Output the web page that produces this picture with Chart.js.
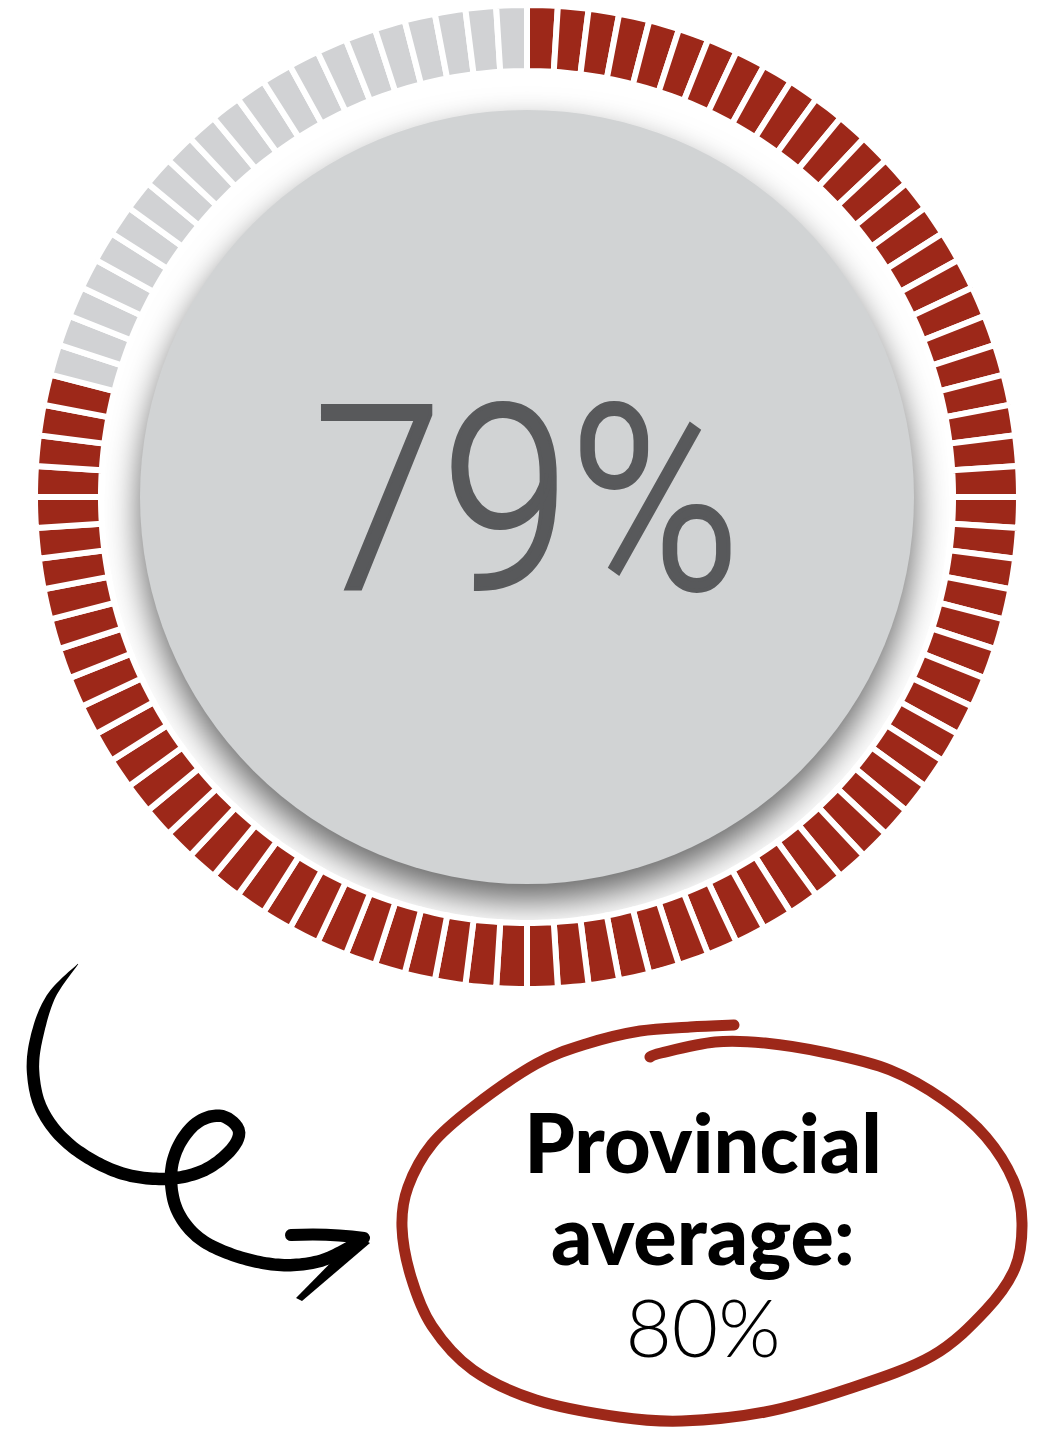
<!DOCTYPE html>
<html>
<head>
<meta charset="utf-8">
<script src="https://cdn.jsdelivr.net/npm/chart.js@4.4.1/dist/chart.umd.min.js"></script>
<style>
  html, body { margin: 0; padding: 0; background: #ffffff; }
  body { width: 1045px; height: 1429px; position: relative; overflow: hidden; }
  #gaugeWrap { position: absolute; left: 35px; top: 5px; width: 984px; height: 984px; }
  #scoreLabel {
    position: absolute; left: 227px; width: 600px; top: 373px;
    text-align: center; font-family: Roboto, sans-serif; font-weight: 300;
    font-size: 256px; line-height: 256px; color: #58595b;
    -webkit-text-stroke: 4px #58595b;
    transform: scaleX(0.9); transform-origin: 50% 50%; white-space: nowrap;
  }
  .note { position: absolute; left: 453px; width: 500px; text-align: center; font-family: Lato, sans-serif; color: #000; white-space: nowrap; }
  #noteLine1 { top: 1101px; font-weight: 900; font-size: 81px; line-height: 81px; }
  #noteLine2 { top: 1193px; font-weight: 900; font-size: 81px; line-height: 81px; }
  #noteLine3 { top: 1286px; font-weight: 300; font-size: 80px; line-height: 80px; }
  svg#marks { position: absolute; left: 0; top: 0; }
</style>
</head>
<body>
<div id="gaugeWrap"><canvas id="gauge"></canvas></div>
<div id="scoreLabel"></div>
<svg id="marks" width="1045" height="1429"></svg>
<div class="note" id="noteLine1"></div>
<div class="note" id="noteLine2"></div>
<div class="note" id="noteLine3"></div>

<script>
// Share of the gauge that is reached vs. not reached (in percent points)
const categories = ['Reached', 'Not reached'];
const values = [79, 21];
const segmentColors = ['#9d2819', '#d1d2d4'];
// Comparison figure shown in the circled note
const noteTitle = ['Provincial', 'average:'];
const provincialAverage = [80];

// One ring slice per percentage point, coloured by the category it belongs to
const sliceData = [];
const sliceColors = [];
const sliceLabels = [];
categories.forEach((name, ci) => {
  for (let k = 0; k < values[ci]; k++) {
    sliceData.push(1);
    sliceColors.push(segmentColors[ci]);
    sliceLabels.push(name);
  }
});

// Grey disc with a drop shadow inside the ring
const centerDisc = {
  id: 'centerDisc',
  beforeDatasetsDraw(chart) {
    const arc = chart.getDatasetMeta(0).data[0];
    if (!arc) return;
    const ctx = chart.ctx;
    ctx.save();
    ctx.shadowColor = 'rgba(0,0,0,0.6)';
    ctx.shadowBlur = 34;
    ctx.shadowOffsetY = 17;
    ctx.beginPath();
    ctx.arc(arc.x, arc.y, 387, 0, Math.PI * 2);
    ctx.fillStyle = '#d1d3d4';
    ctx.fill();
    ctx.restore();
  }
};

new Chart(document.getElementById('gauge'), {
  type: 'doughnut',
  data: {
    labels: sliceLabels,
    datasets: [{
      data: sliceData,
      backgroundColor: sliceColors,
      borderColor: '#ffffff',
      borderWidth: 6,
      borderJoinStyle: 'miter',
      hoverOffset: 0
    }]
  },
  options: {
    responsive: true,
    maintainAspectRatio: false,
    animation: false,
    radius: 492,
    cutout: '86.59%',
    layout: { padding: 0 },
    plugins: { legend: { display: false }, tooltip: { enabled: false } },
    events: []
  },
  plugins: [centerDisc]
});

document.getElementById('scoreLabel').textContent = values[0] + '%';
document.getElementById('noteLine1').textContent = noteTitle[0];
document.getElementById('noteLine2').textContent = noteTitle[1];
document.getElementById('noteLine3').textContent = provincialAverage[0] + '%';

// Hand-drawn style strokes: curly arrow and the loop around the note
function smoothPath(pts) {
  let d = 'M ' + pts[0][0] + ' ' + pts[0][1];
  for (let i = 0; i < pts.length - 1; i++) {
    const p0 = pts[i - 1] || pts[i], p1 = pts[i], p2 = pts[i + 1], p3 = pts[i + 2] || p2;
    const c1 = [p1[0] + (p2[0] - p0[0]) / 6, p1[1] + (p2[1] - p0[1]) / 6];
    const c2 = [p2[0] - (p3[0] - p1[0]) / 6, p2[1] - (p3[1] - p1[1]) / 6];
    d += ' C ' + c1[0].toFixed(1) + ' ' + c1[1].toFixed(1) + ' ' + c2[0].toFixed(1) + ' ' + c2[1].toFixed(1) + ' ' + p2[0] + ' ' + p2[1];
  }
  return d;
}
const NS = 'http://www.w3.org/2000/svg';
const svg = document.getElementById('marks');
function addPath(d, stroke, width, fill) {
  const p = document.createElementNS(NS, 'path');
  p.setAttribute('d', d);
  p.setAttribute('fill', fill || 'none');
  if (stroke) {
    p.setAttribute('stroke', stroke);
    p.setAttribute('stroke-width', width);
    p.setAttribute('stroke-linecap', 'round');
    p.setAttribute('stroke-linejoin', 'round');
  }
  svg.appendChild(p);
  return p;
}
// Stroke whose width swells from w0 to w1 over the first part of its length
function taperedStroke(pts, w0, w1, rampFrac, color) {
  const guide = addPath(smoothPath(pts), null, 0, 'none');
  const len = guide.getTotalLength();
  const n = 240;
  const left = [], right = [];
  for (let i = 0; i <= n; i++) {
    const s = len * i / n;
    const p = guide.getPointAtLength(s);
    const q = guide.getPointAtLength(Math.min(len, s + 0.5));
    const r = guide.getPointAtLength(Math.max(0, s - 0.5));
    let tx = q.x - r.x, ty = q.y - r.y;
    const tl = Math.hypot(tx, ty) || 1;
    tx /= tl; ty /= tl;
    const f = Math.min(1, (i / n) / rampFrac);
    const w = (w0 + (w1 - w0) * Math.sin(f * Math.PI / 2)) / 2;
    left.push([p.x - ty * w, p.y + tx * w]);
    right.push([p.x + ty * w, p.y - tx * w]);
  }
  svg.removeChild(guide);
  const outline = left.concat(right.reverse());
  const d = 'M ' + outline.map(pt => pt[0].toFixed(1) + ' ' + pt[1].toFixed(1)).join(' L ') + ' Z';
  addPath(d, null, 0, color);
}

const curlPts = [[78,964],[52,995],[38,1032],[33,1070],[42,1110],[70,1145],[115,1171],[160,1179],[200,1172],[229,1152],[239,1131],[222,1116],[198,1122],[179,1145],[171,1175],[177,1210],[199,1238],[236,1256],[280,1265],[320,1261],[352,1246]];
taperedStroke(curlPts, 0.5, 12.5, 0.12, '#000');
addPath('M 350 1247 L 352 1246', '#000', 12);
// arrow head
addPath('M 291 1235 Q 330 1233 364 1238', '#000', 12);
addPath('M 357 1236 L 370 1243 L 302 1301 L 296 1298 Z', null, 0, '#000');

const loopPts = [[734,1025],[690,1027],[640,1031],[586,1044],[536,1064],[473,1107],[432,1144],[408,1187],[402,1227],[411,1277],[432,1326],[473,1370],[536,1400],[619,1417],[682,1421],[765,1412],[848,1389],[932,1356],[986,1310],[1015,1268],[1022,1223],[1014,1182],[986,1137],[944,1100],[890,1070],[827,1053],[765,1043],[715,1042],[661,1053],[650,1057]];
addPath(smoothPath(loopPts), '#9d2819', 11);
</script>
</body>
</html>
